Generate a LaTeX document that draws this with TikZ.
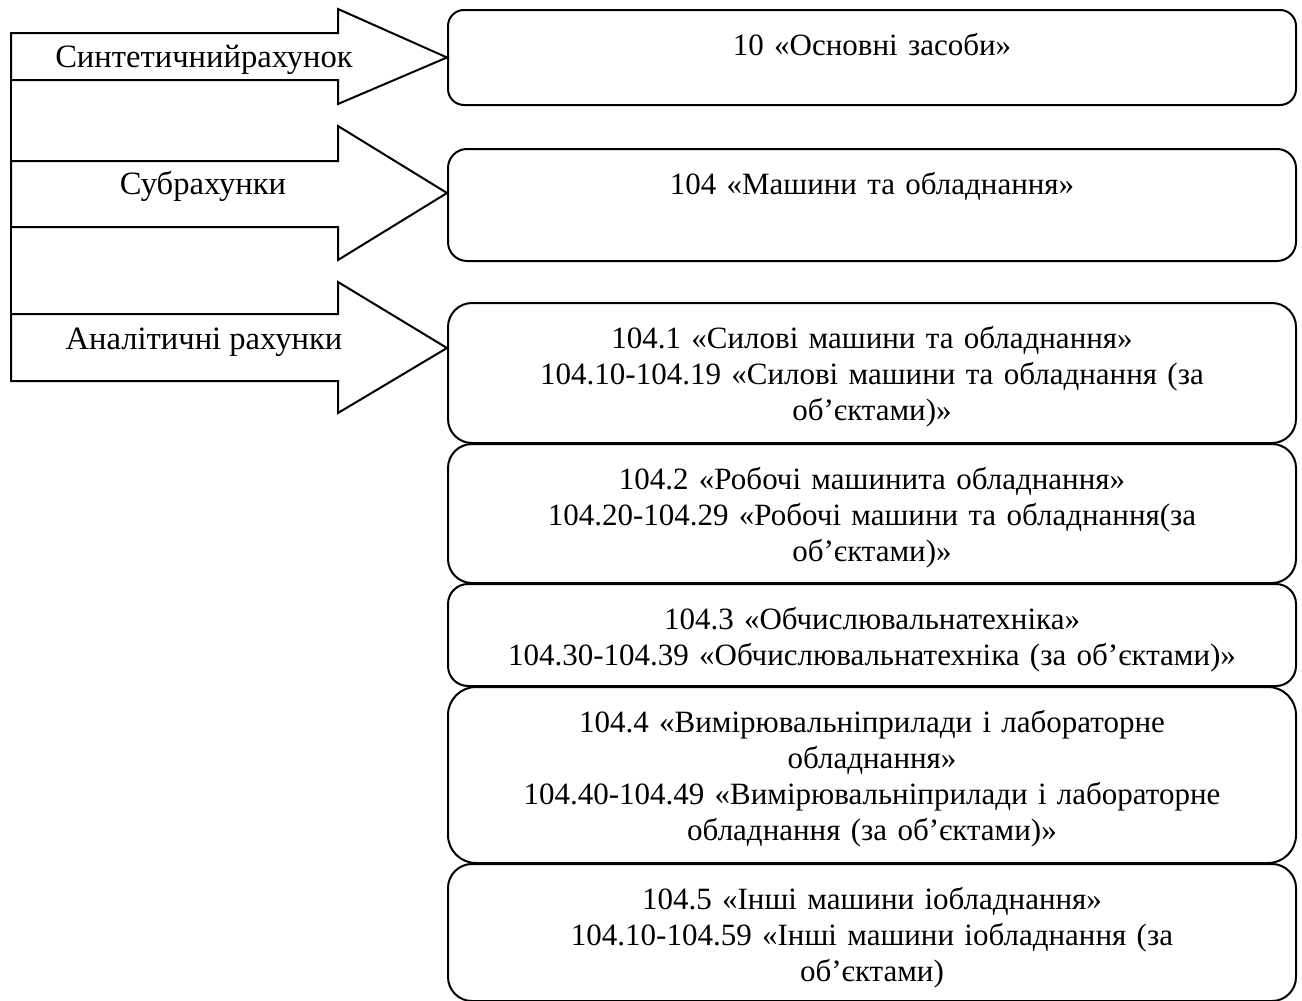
\documentclass[tikz,border=0pt]{standalone}
\usepackage{fontspec}
\setmainfont{Liberation Serif}
\usetikzlibrary{positioning}

\begin{document}
\begin{tikzpicture}[
    x=0.5pt, y=-0.5pt,
    line width=1pt,
    font=\fontsize{15.5pt}{18pt}\selectfont,
    acct/.style={draw, anchor=north west, align=center, text width=410pt,
        inner xsep=7pt, inner ysep=0pt, text height=22.5pt},
    blk/.style={draw, line join=miter},
    lbl/.style={anchor=base, inner sep=0pt, font=\fontsize{16.3pt}{18pt}\selectfont},
    ]
    \useasboundingbox (0,0) rectangle (1302,1001);

    % account boxes
    \node[acct, rounded corners=8pt, text depth=25pt] (syn) at (447,9) {10 «Основні засоби»};
    \node[acct, rounded corners=9.5pt, text depth=33.5pt] (sub) at (447,148) {104 «Машини та обладнання»};
    \node[acct, rounded corners=12pt, text depth=47.5pt] (an1) at (447,302)
        {104.1 «Силові машини та обладнання»\\104.10-104.19 «Силові машини та обладнання (за\\об’єктами)»};
    \node[acct, rounded corners=12pt, text depth=47pt] (an2) at (447,443)
        {104.2 «Робочі машинита обладнання»\\104.20-104.29 «Робочі машини та обладнання(за\\об’єктами)»};
    \node[acct, rounded corners=10pt, text depth=28.5pt] (an3) at (447,583)
        {104.3 «Обчислювальнатехніка»\\104.30-104.39 «Обчислювальнатехніка (за об’єктами)»};
    \node[acct, rounded corners=14pt, text depth=65.5pt] (an4) at (447,686)
        {104.4 «Вимірювальніприлади і лабораторне\\обладнання»\\104.40-104.49 «Вимірювальніприлади і лабораторне\\обладнання (за об’єктами)»};
    \node[acct, rounded corners=12pt, text depth=46pt] (an5) at (447,863)
        {104.5 «Інші машини іобладнання»\\104.10-104.59 «Інші машини іобладнання (за\\об’єктами)};

    % block arrows
    \draw[blk] (11,33) -- (338,33) -- (338,9) -- (syn.west) -- (338,104) -- (338,80) -- (11,80) -- cycle;
    \draw[blk] (11,161) -- (338,161) -- (338,126) -- (447,193) -- (338,260) -- (338,227) -- (11,227) -- cycle;
    \draw[blk] (11,314) -- (338,314) -- (338,282) -- (447,348) -- (338,413) -- (338,381) -- (11,381) -- cycle;
    \draw (11,33) -- (11,381);

    \node[lbl] (synl) at (204,67) {Синтетичнийрахунок};
    \node[lbl] (subl) at (203,194) {Субрахунки};
    \node[lbl] (anl) at (204,349) {Аналітичні рахунки};
\end{tikzpicture}
\end{document}
